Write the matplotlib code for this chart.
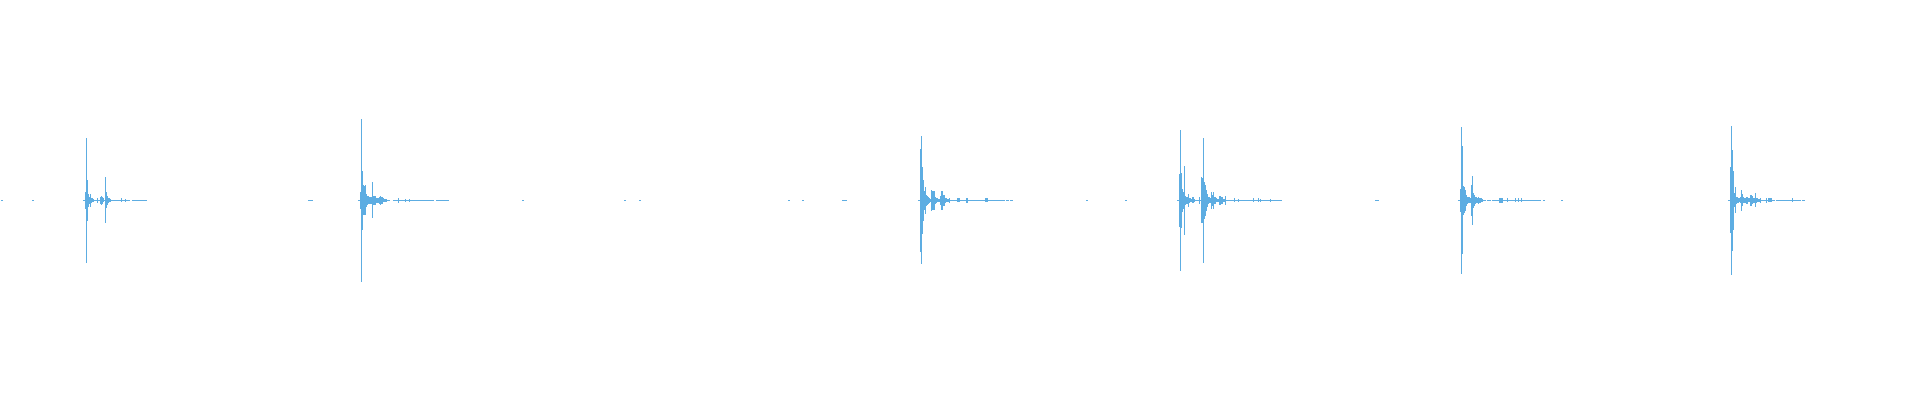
import matplotlib
matplotlib.use("Agg")
import matplotlib.pyplot as plt

# waveform drawn as one min/max bar per column (x = column index, amp = half height)
spike_x = [84, 85, 86, 87, 88, 89, 90, 91, 92, 96, 99, 100, 101, 102, 104, 105, 106, 107, 108, 109, 120, 124,
           359, 360, 361, 362, 363, 364, 365, 366, 367, 368, 369, 370, 371, 372, 373, 374, 375, 376, 377, 378,
           379, 380, 381, 382, 383, 384, 385, 397, 404, 408,
           919, 920, 921, 922, 923, 924, 925, 926, 927, 928, 929, 930, 931, 932, 933, 934, 935, 936, 937, 938,
           939, 940, 941, 942, 943, 944, 945, 946, 947, 948, 956, 957, 958, 965, 966, 984, 985, 986,
           1178, 1179, 1180, 1181, 1182, 1183, 1184, 1185, 1186, 1187, 1188, 1189, 1190, 1191, 1192, 1193, 1198,
           1200, 1201, 1202, 1203, 1204, 1205, 1206, 1207, 1208, 1209, 1210, 1211, 1212, 1213, 1214, 1215, 1216,
           1217, 1218, 1219, 1220, 1221, 1222, 1223, 1224, 1233, 1237, 1252, 1257, 1259, 1269,
           1459, 1460, 1461, 1462, 1463, 1464, 1465, 1466, 1467, 1468, 1469, 1470, 1471, 1472, 1473, 1474, 1475,
           1476, 1477, 1478, 1479, 1480, 1481, 1498, 1499, 1500, 1501, 1506, 1514, 1517, 1520,
           1729, 1730, 1731, 1732, 1733, 1734, 1735, 1736, 1737, 1738, 1739, 1740, 1741, 1742, 1743, 1744, 1745,
           1746, 1747, 1748, 1749, 1750, 1751, 1752, 1753, 1754, 1755, 1756, 1757, 1758, 1759, 1765, 1767, 1768,
           1769, 1770, 1791]
spike_amp = [8, 62, 20, 6, 3, 6, 2, 1.5, 1, 2, 3, 4, 3, 1.5, 22.5, 7.5, 4, 2, 1.5, 1, 1.5, 1,
             8, 81, 29, 14.5, 14, 14.5, 6, 4, 3.5, 3, 3, 3, 17.5, 4, 4, 4, 2, 2, 2, 3,
             4, 3, 3, 1.5, 1, 1, 1, 2, 1, 1,
             51, 63.5, 33, 20, 9, 13, 5, 4, 3, 2, 1, 10, 9, 9, 9, 3, 2, 1.5, 1, 1,
             4, 9, 9, 5, 5, 2, 1.5, 1, 1, 2, 1.5, 1.5, 1.5, 2, 2, 1.5, 1.5, 1.5,
             26, 70, 27, 11, 8, 34, 4, 3, 3, 6, 2, 1.5, 1, 2.5, 2.5, 1, 3,
             22.5, 22, 62, 18, 15, 10, 6, 3, 2.5, 2, 8, 5, 8, 3, 3, 1.5, 1,
             1, 4, 4, 3, 3, 1, 1, 4, 1.5, 1, 1.5, 1.5, 1, 1,
             11, 73, 53.5, 14, 12.5, 10, 5, 3, 2.5, 2.5, 2, 15, 24, 7, 5, 3, 2.5,
             2, 3, 2, 2, 1.5, 1, 2, 2, 2, 2, 1.5, 1.5, 1.5, 1.5,
             32.5, 74, 50, 29, 6.5, 12.5, 3, 2.5, 2, 1.5, 2.5, 10, 5.5, 2.5, 2, 2, 3,
             3, 1.5, 1.5, 5, 5, 3.5, 2, 2, 6.5, 2, 1.5, 1, 1, 2, 2, 1.5, 1.5,
             1.5, 1.5, 1.5]

# near-silent stretches (flat line on zero), start / end column
quiet_start = [1, 32, 83, 132, 137, 142, 308, 358, 393, 397, 418, 423, 426, 429, 436, 441, 445, 522, 624, 639,
               788, 802, 842, 918, 995, 998, 1002, 1006, 1010, 1086, 1125, 1177, 1233, 1236, 1240, 1261, 1277,
               1375, 1458, 1487, 1489, 1492, 1495, 1510, 1533, 1543, 1561, 1728, 1763, 1776, 1797, 1802]
quiet_end = [1, 32, 128, 135, 140, 145, 311, 388, 396, 417, 422, 425, 427, 432, 440, 443, 447, 522, 624, 639,
             788, 802, 845, 993, 997, 1000, 1003, 1007, 1011, 1086, 1125, 1232, 1234, 1239, 1260, 1277, 1280,
             1377, 1484, 1487, 1489, 1493, 1510, 1531, 1539, 1543, 1561, 1762, 1773, 1796, 1799, 1803]

color = '#5DADE2'
lw = 0.72  # one pixel at 100 dpi

fig = plt.figure(figsize=(19.2, 4), dpi=100)
ax = fig.add_axes([0, 0, 1, 1])
ax.set_xlim(0, 1920)
ax.set_ylim(-200.5, 199.5)
ax.axis('off')

ax.hlines([0] * len(quiet_start), [s for s in quiet_start], [e + 1 for e in quiet_end],
          colors=color, linewidth=lw, antialiased=False)
ax.vlines([x + 0.5 for x in spike_x], [-a for a in spike_amp], spike_amp,
          colors=color, linewidth=lw, antialiased=False)

plt.savefig('out.png', dpi=100, facecolor='white')
